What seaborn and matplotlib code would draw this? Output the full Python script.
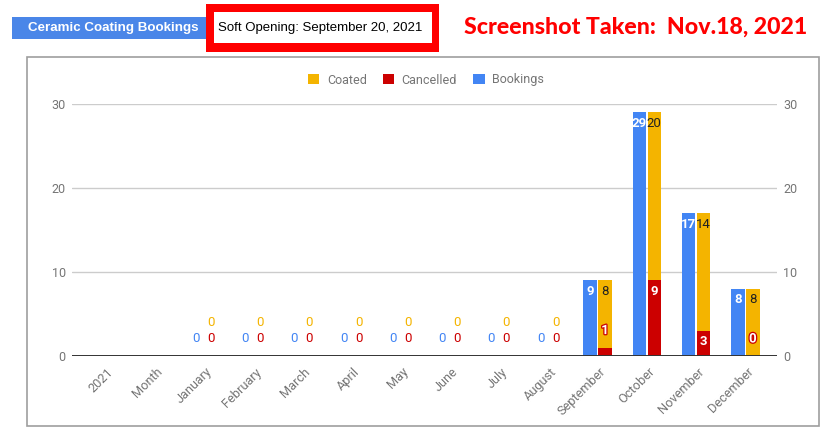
import numpy as np
import pandas as pd
import matplotlib
matplotlib.use("Agg")
import matplotlib.pyplot as plt
import seaborn as sns
import matplotlib.patheffects as pe
from matplotlib.patches import Rectangle, Patch
from matplotlib.colors import to_rgb
from matplotlib.transforms import ScaledTranslation

# ---------------- data ----------------
categories = ["2021", "Month", "January", "February", "March", "April", "May",
              "June", "July", "August", "September", "October", "November", "December"]
bookings = [np.nan, np.nan, 0, 0, 0, 0, 0, 0, 0, 0, 9, 29, 17, 8]
cancelled = [np.nan, np.nan, 0, 0, 0, 0, 0, 0, 0, 0, 1, 9, 3, 0]
coated = [np.nan, np.nan, 0, 0, 0, 0, 0, 0, 0, 0, 8, 20, 14, 8]
y_ticks = [0, 10, 20, 30]
legend_names = ["Coated", "Cancelled", "Bookings"]
header_label = "Ceramic Coating Bookings"
note_label = "Soft Opening: September 20, 2021"
stamp_label = "Screenshot Taken:  Nov.18, 2021"

BLUE = "#4285F4"
RED = "#CC0000"
YELLOW = "#F4B400"
GRAY = "#757575"

sns.set_theme(style="white")
plt.rcParams["font.family"] = ["Roboto", "DejaVu Sans"]

W, H = 829, 428
fig = plt.figure(figsize=(W / 100, H / 100), dpi=100)
fig.patch.set_facecolor("white")


def fx(px):
    return px / W


def fy(py):
    return 1 - py / H


AX_L, AX_R = 72, 777
ax = fig.add_axes([fx(AX_L), fy(356), fx(AX_R) - fx(AX_L), fy(104) - fy(356)])

stack_total = [c + k for c, k in zip(cancelled, coated)]
n = len(categories)
df1 = pd.DataFrame({"cat": categories * 2,
                    "series": ["Bookings"] * n + ["Stack"] * n,
                    "value": bookings + stack_total})
df2 = pd.DataFrame({"cat": categories * 2,
                    "series": ["Bookings"] * n + ["Stack"] * n,
                    "value": [np.nan] * n + cancelled})

common = dict(x="cat", y="value", hue="series", order=categories,
              hue_order=["Bookings", "Stack"], width=0.61, gap=0.1,
              errorbar=None, legend=False, saturation=1, linewidth=0, ax=ax)
sns.barplot(data=df1, palette={"Bookings": BLUE, "Stack": YELLOW}, **common)
sns.barplot(data=df2, palette={"Bookings": BLUE, "Stack": RED}, **common)

# categories occupy 80..770 px while gridlines span the full axes
cat_w = (770 - 80) / n
ax.set_xlim(-0.5 - (80 - AX_L) / cat_w, n - 0.5 + (AX_R - 770) / cat_w)
ax.set_ylim(0, 30)
ax.set_yticks(y_ticks)
ax.set_yticklabels([str(t) for t in y_ticks])
ax.yaxis.grid(True, color="#cccccc", lw=1)
ax.xaxis.grid(False)
ax.set_axisbelow(True)
ax.axhline(0, color="#333333", lw=1.4, zorder=5)
for s in ax.spines.values():
    s.set_visible(False)
ax.set_xlabel("")
ax.set_ylabel("")
ax.tick_params(axis="y", length=0, pad=4.5, labelcolor=GRAY, labelsize=9)
ax.tick_params(axis="x", length=0, pad=10, labelcolor=GRAY, labelsize=9.2)
ax.set_xticks(range(n))
ax.set_xticklabels(categories)
for lbl in ax.get_xticklabels():
    lbl.set_rotation(45)
    lbl.set_ha("right")
    lbl.set_va("center")
    lbl.set_rotation_mode("anchor")
    lbl.set_transform(lbl.get_transform() + ScaledTranslation(6.5 / 100, 0, fig.dpi_scale_trans))

ax2 = ax.twinx()
ax2.set_ylim(ax.get_ylim())
ax2.set_yticks(y_ticks)
ax2.set_yticklabels([str(t) for t in y_ticks])
ax2.grid(False)
for s in ax2.spines.values():
    s.set_visible(False)
ax2.tick_params(axis="y", length=0, pad=4.5, labelcolor=GRAY, labelsize=9)


# ---------------- data labels ----------------
def label(x, y, s, color, dy, weight="normal", stroke=None):
    kw = {}
    if stroke:
        kw["path_effects"] = [pe.withStroke(linewidth=1.8, foreground=stroke)]
    ax.annotate(s, (x, y), xytext=(0, dy), textcoords="offset pixels",
                ha="center", va="center", color=color, fontsize=9.5,
                fontweight=weight, zorder=10, **kw)


def kind(p):
    c = p.get_facecolor()[:3]
    for name, col in (("b", BLUE), ("y", YELLOW), ("r", RED)):
        if np.allclose(c, to_rgb(col), atol=0.02):
            return name
    return None


INSIDE = -11
for p in list(ax.patches):
    k = kind(p)
    if k is None:
        continue
    xc = p.get_x() + p.get_width() / 2
    i = int(round(xc))
    if k == "b":
        v = bookings[i]
        if np.isnan(v):
            continue
        if v >= 2:
            label(xc, v, f"{v:g}", "white", INSIDE, weight="bold")
        else:
            label(xc, v, f"{v:g}", BLUE, 17)
    elif k == "y":
        v = coated[i]
        if np.isnan(v):
            continue
        top = stack_total[i]
        if v >= 2:
            label(xc, top, f"{v:g}", "#222222", INSIDE)
        else:
            label(xc, top, f"{v:g}", YELLOW, 34)
    elif k == "r":
        v = cancelled[i]
        if np.isnan(v):
            continue
        if v >= 2:
            label(xc, v, f"{v:g}", "white", INSIDE, weight="bold")
        elif coated[i] > 0:
            label(xc, v, f"{v:g}", "white", 17, weight="bold", stroke=RED)
        else:
            label(xc, v, f"{v:g}", RED, 17)

# ---------------- legend ----------------
leg_colors = {"Coated": YELLOW, "Cancelled": RED, "Bookings": BLUE}
handles = [Patch(facecolor=leg_colors[nm], edgecolor="none", label=nm) for nm in legend_names]
fig.legend(handles=handles, loc="center", bbox_to_anchor=(fx(426), fy(80)), ncol=3,
           frameon=False, fontsize=9, handlelength=0.9, handleheight=0.9,
           handletextpad=0.6, columnspacing=1.3, labelcolor=GRAY)

# ---------------- chart frame & header ----------------
fig.patches.append(Rectangle((fx(27), fy(426)), fx(819) - fx(27), fy(57) - fy(426),
                             transform=fig.transFigure, fill=False,
                             edgecolor="#9e9e9e", lw=1.2))
fig.patches.append(Rectangle((fx(12), fy(39)), fx(207) - fx(12), fy(17) - fy(39),
                             transform=fig.transFigure, facecolor="#4a86e8",
                             edgecolor="none"))
fig.text(fx(113), fy(28), header_label, color="white", fontsize=9.6, fontweight="bold",
         family=["Liberation Sans", "DejaVu Sans"], ha="center", va="center")
fig.patches.append(Rectangle((fx(206), fy(52)), fx(439) - fx(206), fy(4) - fy(52),
                             transform=fig.transFigure, facecolor="#ff0000",
                             edgecolor="none"))
fig.patches.append(Rectangle((fx(214), fy(43)), fx(432) - fx(214), fy(12) - fy(43),
                             transform=fig.transFigure, facecolor="white",
                             edgecolor="none"))
fig.text(fx(320.5), fy(28), note_label, color="black", fontsize=9.5,
         family=["Liberation Sans", "DejaVu Sans"], ha="center", va="center")
stamp = fig.text(fx(636), fy(27), stamp_label, color="#ff0000", fontsize=17,
                 fontweight="black", family=["Lato", "DejaVu Sans"],
                 ha="center", va="center")
renderer = fig.canvas.get_renderer()
bb = stamp.get_window_extent(renderer)
stamp.set_fontsize(17 * 344 / bb.width)

fig.savefig("out.png", dpi=100, facecolor="white")
